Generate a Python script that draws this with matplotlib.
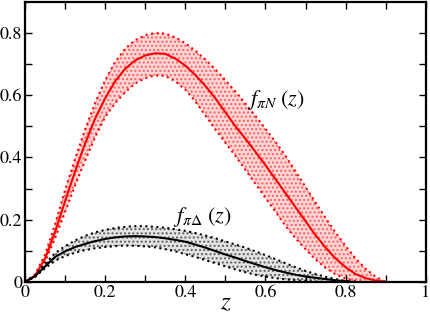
import numpy as np
import matplotlib
matplotlib.use("Agg")
import matplotlib.pyplot as plt

plt.rcParams['font.family'] = 'serif'
plt.rcParams['font.serif'] = ['STIXGeneral', 'Liberation Serif', 'DejaVu Serif']
plt.rcParams['mathtext.fontset'] = 'stix'
plt.rcParams['hatch.linewidth'] = 1.0

# f_piN(z): central value and band edges
z_n = [0, 0.025, 0.05, 0.075, 0.1, 0.125, 0.15, 0.175, 0.2, 0.225, 0.25,
       0.275, 0.3, 0.325, 0.35, 0.375, 0.4, 0.425, 0.45, 0.475, 0.5, 0.525,
       0.55, 0.575, 0.6, 0.625, 0.65, 0.675, 0.7, 0.725, 0.75, 0.775, 0.8,
       0.825, 0.85, 0.875, 0.9]
fn_mid = [0, 0.02, 0.075, 0.16, 0.26, 0.355, 0.445, 0.525, 0.59, 0.645,
          0.685, 0.712, 0.728, 0.735, 0.733, 0.718, 0.695, 0.665, 0.63,
          0.59, 0.545, 0.50, 0.46, 0.418, 0.375, 0.33, 0.285, 0.24, 0.195,
          0.15, 0.11, 0.075, 0.047, 0.025, 0.012, 0.004, 0]
fn_up = [0, 0.024, 0.088, 0.185, 0.295, 0.395, 0.49, 0.575, 0.648, 0.707,
         0.75, 0.777, 0.793, 0.80, 0.798, 0.786, 0.767, 0.743, 0.715, 0.683,
         0.648, 0.612, 0.573, 0.533, 0.492, 0.45, 0.405, 0.355, 0.305, 0.255,
         0.205, 0.158, 0.115, 0.075, 0.042, 0.016, 0]
fn_lo = [0, 0.016, 0.065, 0.14, 0.225, 0.31, 0.39, 0.465, 0.53, 0.575, 0.61,
         0.638, 0.655, 0.664, 0.662, 0.645, 0.618, 0.58, 0.535, 0.49, 0.447,
         0.405, 0.36, 0.315, 0.27, 0.225, 0.18, 0.14, 0.105, 0.072, 0.045,
         0.024, 0.01, 0.003, 0, 0, 0]

# f_piDelta(z)
z_d = [0, 0.025, 0.05, 0.075, 0.1, 0.125, 0.15, 0.175, 0.2, 0.225, 0.25,
       0.275, 0.3, 0.325, 0.35, 0.375, 0.4, 0.425, 0.45, 0.475, 0.5, 0.525,
       0.55, 0.575, 0.6, 0.625, 0.65, 0.675, 0.7, 0.725, 0.75, 0.775, 0.8,
       0.82]
fd_mid = [0, 0.018, 0.05, 0.08, 0.098, 0.112, 0.122, 0.131, 0.138, 0.143,
          0.146, 0.147, 0.146, 0.144, 0.14, 0.135, 0.129, 0.12, 0.11, 0.099,
          0.088, 0.078, 0.067, 0.057, 0.047, 0.038, 0.03, 0.023, 0.017,
          0.013, 0.009, 0.005, 0.002, 0]
fd_up = [0, 0.02, 0.058, 0.092, 0.115, 0.133, 0.148, 0.159, 0.167, 0.173,
         0.177, 0.179, 0.179, 0.177, 0.174, 0.169, 0.164, 0.157, 0.149, 0.14,
         0.13, 0.12, 0.11, 0.098, 0.086, 0.073, 0.06, 0.047, 0.035, 0.025,
         0.016, 0.009, 0.003, 0]
fd_lo = [0, 0.016, 0.044, 0.068, 0.083, 0.094, 0.102, 0.108, 0.112, 0.115,
         0.117, 0.116, 0.114, 0.111, 0.105, 0.098, 0.089, 0.08, 0.07, 0.06,
         0.05, 0.04, 0.031, 0.023, 0.017, 0.012, 0.008, 0.005, 0.003, 0.001,
         0, 0, 0, 0]

xticks = [0, 0.2, 0.4, 0.6, 0.8, 1]
xticklabels = ['0', '0.2', '0.4', '0.6', '0.8', '1']
yticks = [0, 0.2, 0.4, 0.6, 0.8]
yticklabels = ['0', '0.2', '0.4', '0.6', '0.8']

fig = plt.figure(figsize=(4.31, 3.16), dpi=100)
ax = fig.add_axes([0.058, 0.108, 0.930, 0.886])

# red band
ax.fill_between(z_n, fn_lo, fn_up, facecolor='#ffd6d6', edgecolor='#ff6060',
                hatch='....', linewidth=0)
ax.plot(z_n, fn_up, color='red', ls=':', lw=1.5)
ax.plot(z_n, fn_lo, color='red', ls=':', lw=1.5)
ax.plot(z_n, fn_mid, color='red', lw=1.5)

# black band
ax.fill_between(z_d, fd_lo, fd_up, facecolor='#e4e4e4', edgecolor='#606060',
                hatch='....', linewidth=0)
ax.plot(z_d, fd_up, color='black', ls=':', lw=1.5)
ax.plot(z_d, fd_lo, color='black', ls=':', lw=1.5)
ax.plot(z_d, fd_mid, color='black', lw=1.5)

ax.text(0.555, 0.585, r'$f_{\pi N}\;(z)$', fontsize=16, va='center')
ax.text(0.368, 0.21, r'$f_{\pi\Delta}\;(z)$', fontsize=16, va='center')

ax.set_xlim(0, 1)
ax.set_ylim(0, 0.9)
ax.set_xticks(xticks)
ax.set_xticklabels(xticklabels)
ax.set_yticks(yticks)
ax.set_yticklabels(yticklabels)
ax.set_xticks(np.arange(0.1, 1.0, 0.2), minor=True)
ax.set_yticks(np.arange(0.1, 0.9, 0.2), minor=True)
ax.tick_params(which='both', direction='in', top=True, right=True,
               length=5, width=1, labelsize=13, pad=2)
for s in ax.spines.values():
    s.set_linewidth(1.6)
ax.set_xlabel(r'$z$', fontsize=18, labelpad=-7)

plt.savefig("out.png", dpi=100)
